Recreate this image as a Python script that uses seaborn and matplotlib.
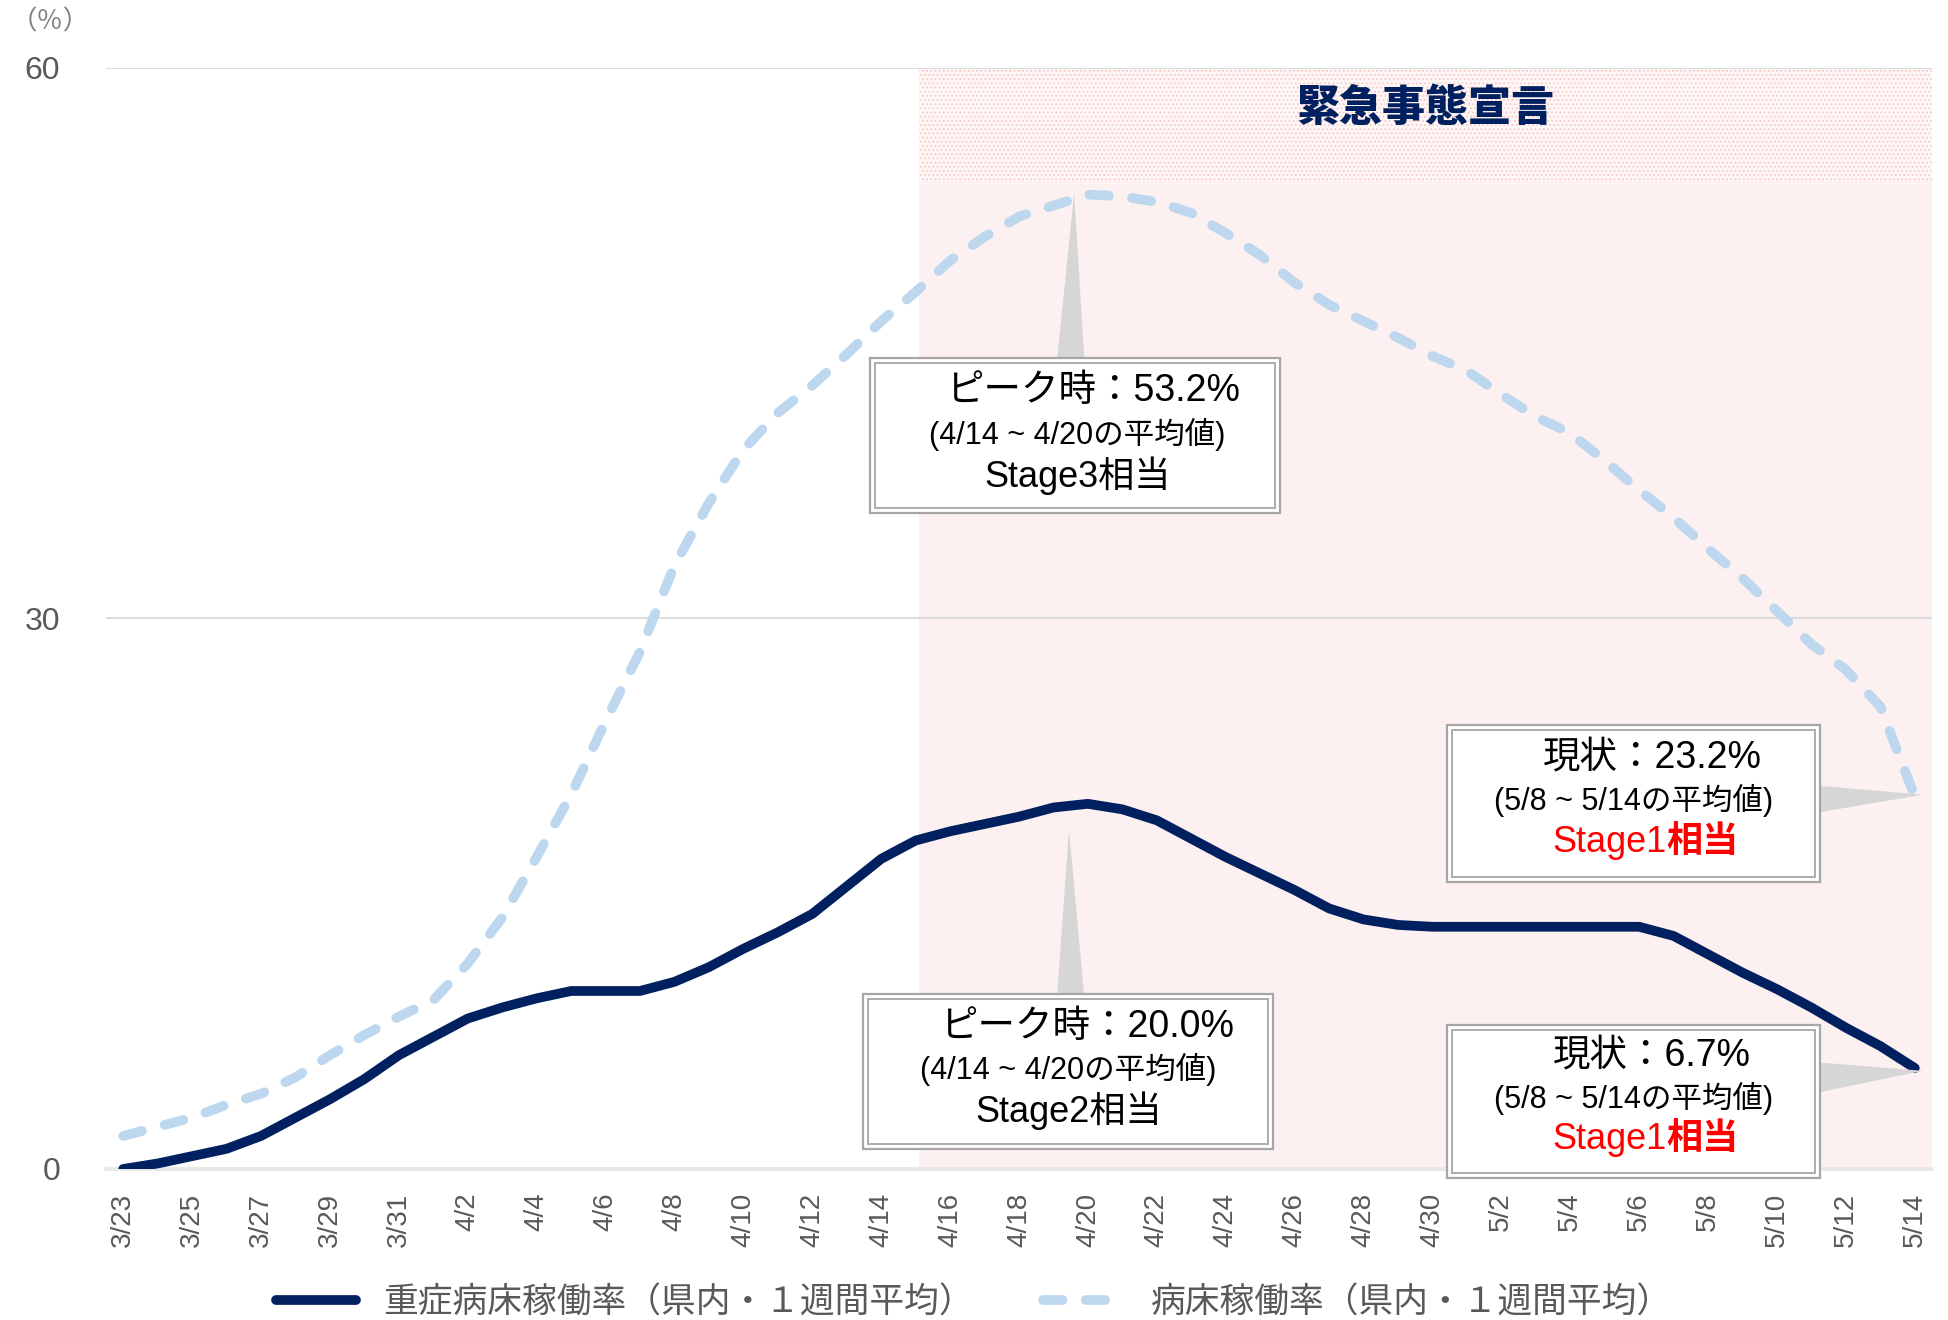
import numpy as np
import pandas as pd
import matplotlib
matplotlib.use("Agg")
import matplotlib.pyplot as plt
import seaborn as sns
from matplotlib.patches import Rectangle, Polygon

# --- data ---
dates = pd.date_range("2021-03-23", "2021-05-14", freq="D")
date_labels = [f"{d.month}/{d.day}" for d in dates]

severe_rate = [0.0, 0.3, 0.7, 1.1, 1.8, 2.8, 3.8, 4.9, 6.2,
               7.2, 8.2, 8.8, 9.3, 9.7, 9.7, 9.7, 10.2, 11.0, 12.0,
               12.9, 13.9, 15.4, 16.9, 17.9, 18.4, 18.8, 19.2, 19.7, 19.9,
               19.6, 19.0, 18.0, 17.0, 16.1, 15.2, 14.2, 13.6, 13.3, 13.2,
               13.2, 13.2, 13.2, 13.2, 13.2, 13.2, 12.7, 11.7, 10.7, 9.8,
               8.8, 7.7, 6.7, 5.5]
bed_rate = [1.8, 2.3, 2.8, 3.5, 4.1, 5.0, 6.2, 7.3, 8.3,
            9.2, 11.2, 13.7, 17.0, 20.4, 24.4, 28.2, 32.9, 36.3, 39.2,
            41.2, 42.7, 44.4, 46.2, 47.8, 49.5, 50.8, 51.9, 52.5, 53.1,
            53.0, 52.7, 52.1, 51.0, 49.8, 48.3, 47.1, 46.2, 45.3, 44.3,
            43.5, 42.2, 41.0, 40.1, 38.6, 37.0, 35.5, 33.8, 32.2, 30.4,
            28.6, 27.2, 25.2, 20.3]

severe_label = "重症病床稼働率（県内・１週間平均）"
bed_label = "病床稼働率（県内・１週間平均）"

df = pd.DataFrame({"idx": np.arange(len(dates)), "severe": severe_rate, "bed": bed_rate})

NAVY = "#002060"
LIGHT = "#BDD7EE"
GRAY_TXT = "#595959"
MIXED = ["Liberation Sans", "Noto Sans CJK JP", "DejaVu Sans"]

sns.set_theme(style="white")
plt.rcParams["font.family"] = ["Noto Sans CJK JP", "DejaVu Sans"]

fig = plt.figure(figsize=(19.48, 13.2), dpi=100)
ax = fig.add_axes([0.0544, 0.1144, 0.9374, 0.8341])
ax.set_xlim(-0.5, len(dates) - 0.5)
ax.set_ylim(0, 60)

# emergency declaration shading
decl_start = 23.1
ax.fill_between([decl_start, len(dates) - 0.5], 0, 53.9, color="#FDF0F0", lw=0, zorder=0)
plt.rcParams["hatch.linewidth"] = 0.8
ax.fill_between([decl_start, len(dates) - 0.5], 53.9, 60, facecolor="#FFF6F6",
                hatch="....", edgecolor="#F6CACA", lw=0, zorder=0)
ax.text(37.8, 57.8, "緊急事態宣言", ha="center", va="center", fontsize=31,
        fontweight="heavy", color=NAVY, zorder=3)

# grid
for yv in (30, 60):
    ax.axhline(yv, color="#D9D9D9", lw=1.3, zorder=1)
ax.axhline(0, color="#E8E8E8", lw=3, zorder=1, clip_on=False)

# lines
sns.lineplot(data=df, x="idx", y="bed", ax=ax, color=LIGHT, lw=7,
             linestyle=(0, (2.0, 2.4)), dash_capstyle="round", label=bed_label, zorder=2)
sns.lineplot(data=df, x="idx", y="severe", ax=ax, color=NAVY, lw=7,
             solid_capstyle="round", label=severe_label, zorder=2)

# axes styling
for s in ("left", "right", "top", "bottom"):
    ax.spines[s].set_visible(False)
ax.set_xlabel("")
ax.set_ylabel("")
ax.set_yticks([0, 30, 60])
ax.set_yticklabels(["0", "30", "60"], family=MIXED)
ax.tick_params(axis="y", length=0, pad=33, labelsize=23, labelcolor=GRAY_TXT)
ax.set_xticks(np.arange(0, len(dates), 2))
ax.set_xticklabels(date_labels[::2], rotation=90, family=MIXED)
ax.set_xticks(np.arange(-0.5, len(dates), 2), minor=True)
ax.tick_params(axis="x", which="major", length=0, pad=17, labelsize=20, labelcolor=GRAY_TXT)
ax.tick_params(axis="x", which="minor", length=9, width=1.5, color="#D9D9D9", direction="out")
fig.text(0.026, 0.983, "（％）", ha="center", va="center", fontsize=19, color="#7F7F7F")


# annotation boxes
def callout(x0, x1, y0, y1, tri):
    ax.add_patch(Polygon(tri, closed=True, facecolor="#D6D6D6", edgecolor="none",
                         zorder=4, clip_on=False))
    ax.add_patch(Rectangle((x0, y0), x1 - x0, y1 - y0, facecolor="white",
                           edgecolor="#A6A6A6", lw=1.6, zorder=5, clip_on=False))
    ax.add_patch(Rectangle((x0 + 0.15, y0 + 0.28), x1 - x0 - 0.3, y1 - y0 - 0.56,
                           facecolor="none", edgecolor="#A6A6A6", lw=1.3, zorder=5,
                           clip_on=False))


def box_text(x, y, s, size, **kw):
    ax.text(x, y, s, ha=kw.pop("ha", "center"), va="center", fontsize=size,
            family=MIXED, color=kw.pop("color", "black"), zorder=6, **kw)


callout(21.68, 33.58, 35.75, 44.2, [(27.1, 44.0), (27.9, 44.0), (27.6, 53.2)])
box_text(28.15, 42.4, "ピーク時：53.2%", 27)
box_text(27.7, 40.05, "(4/14 ~ 4/20の平均値)", 22)
box_text(27.7, 37.8, "Stage3相当", 26)

callout(21.47, 33.37, 1.09, 9.54, [(27.1, 9.3), (27.9, 9.3), (27.45, 18.5)])
box_text(27.97, 7.73, "ピーク時：20.0%", 27)
box_text(27.43, 5.4, "(4/14 ~ 4/20の平均値)", 22)
box_text(27.43, 3.17, "Stage2相当", 26)

callout(38.43, 49.25, 15.64, 24.2, [(49.1, 20.9), (49.1, 19.4), (52.24, 20.4)])
box_text(44.38, 22.4, "現状：23.2%", 27)
box_text(43.85, 20.1, "(5/8 ~ 5/14の平均値)", 22)
box_text(44.8, 17.8, "Stage1", 26, ha="right", color="red")
box_text(44.8, 17.8, "相当", 26, ha="left", color="red", fontweight="bold")

callout(38.43, 49.25, -0.49, 7.85, [(49.1, 5.82), (49.1, 4.13), (52.24, 5.35)])
box_text(44.38, 6.16, "現状：6.7%", 27)
box_text(43.85, 3.87, "(5/8 ~ 5/14の平均値)", 22)
box_text(44.8, 1.58, "Stage1", 26, ha="right", color="red")
box_text(44.8, 1.58, "相当", 26, ha="left", color="red", fontweight="bold")

# legend at the bottom
handles, labels = ax.get_legend_handles_labels()
order = [labels.index(severe_label), labels.index(bed_label)]
ax.legend_.remove()
fig.legend([handles[i] for i in order], [labels[i] for i in order],
           loc="center", bbox_to_anchor=(0.5, 0.013), ncol=2, frameon=False,
           fontsize=25, handlelength=2.3, columnspacing=2.0, labelcolor=GRAY_TXT)

fig.savefig("out.png", dpi=100)
